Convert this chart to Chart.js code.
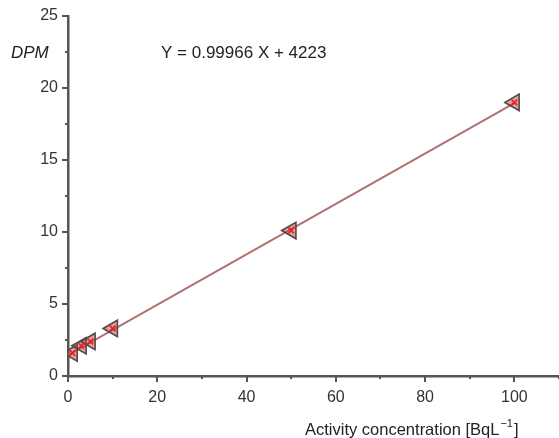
<!DOCTYPE html>
<html>
<head>
<meta charset="utf-8">
<script src="https://cdn.jsdelivr.net/npm/chart.js@4/dist/chart.umd.min.js"></script>
<style>
  body { margin: 0; background: #fff; }
  #wrap { width: 559px; height: 438px; position: relative; }
</style>
</head>
<body>
<div id="wrap"><canvas id="chart"></canvas></div>
<script>
// activity concentration (BqL-1) vs DPM
const concX = [1, 3, 5, 10, 50, 100];
const dpmY = [1.6, 2.1, 2.4, 3.3, 10.1, 19.0];

// regression line end points
const fitX = [0, 100];
const fitY = [1.45, 18.95];

const xTicks = [0, 20, 40, 60, 80, 100];
const yTicks = [0, 5, 10, 15, 20, 25];
const xMax = 110;

const equation = 'Y = 0.99966 X + 4223';
const yLabel = 'DPM';
const xLabel = 'Activity concentration [BqL';

const FONT = '"Liberation Sans", Arial, sans-serif';
const AXIS = '#555';

// draws the tick marks (major + minor) and the free text
const decorPlugin = {
    id: 'decor',
    afterDraw(chart) {
        const { ctx, scales: { x, y } } = chart;
        ctx.save();
        ctx.strokeStyle = AXIS;
        ctx.lineWidth = 2;

        const xs = [];
        xTicks.forEach((v, i) => {
            xs.push([v, 6]);
            if (i < xTicks.length - 1) xs.push([(v + xTicks[i + 1]) / 2, 3]);
        });
        xs.push([xMax, 3]);
        xs.forEach(([v, len]) => {
            const px = Math.round(x.getPixelForValue(v));
            ctx.beginPath();
            ctx.moveTo(px, y.bottom);
            ctx.lineTo(px, y.bottom + len);
            ctx.stroke();
        });

        const ys = [];
        yTicks.forEach((v, i) => {
            ys.push([v, 6]);
            if (i < yTicks.length - 1) ys.push([(v + yTicks[i + 1]) / 2, 3]);
        });
        ys.forEach(([v, len]) => {
            const py = Math.round(y.getPixelForValue(v));
            ctx.beginPath();
            ctx.moveTo(x.left, py);
            ctx.lineTo(x.left - len, py);
            ctx.stroke();
        });

        ctx.fillStyle = '#222';
        ctx.textBaseline = 'middle';
        ctx.textAlign = 'left';
        ctx.font = 'italic 17px ' + FONT;
        ctx.fillText(yLabel, 11, 53);
        ctx.font = '17px ' + FONT;
        ctx.fillText(equation, 161, 53);

        ctx.textBaseline = 'alphabetic';
        ctx.font = '16.5px ' + FONT;
        const bx = 305, by = 435;
        ctx.fillText(xLabel, bx, by);
        const w = ctx.measureText(xLabel).width;
        ctx.font = '11px ' + FONT;
        ctx.fillText('\u22121', bx + w + 1, by - 8);
        const w2 = ctx.measureText('\u22121').width;
        ctx.font = '16.5px ' + FONT;
        ctx.fillText(']', bx + w + w2 + 2, by);
        ctx.restore();
    }
};

new Chart(document.getElementById('chart'), {
    type: 'scatter',
    data: {
        datasets: [
            {
                type: 'line',
                data: fitX.map((v, i) => ({ x: v, y: fitY[i] })),
                borderColor: 'rgba(170, 95, 95, 0.9)',
                borderWidth: 2,
                pointRadius: 0,
                order: 3
            },
            {
                data: concX.map((v, i) => ({ x: v, y: dpmY[i] })),
                pointStyle: 'triangle',
                rotation: -90,
                pointRadius: 9.5,
                borderColor: '#4a4a4a',
                borderWidth: 1.6,
                backgroundColor: 'rgba(215, 60, 60, 0.5)',
                order: 2
            },
            {
                data: concX.map((v, i) => ({ x: v, y: dpmY[i] })),
                pointStyle: 'crossRot',
                pointRadius: 4,
                borderColor: 'rgba(220, 30, 30, 0.9)',
                borderWidth: 1.8,
                order: 1
            }
        ]
    },
    options: {
        responsive: true,
        maintainAspectRatio: false,
        animation: false,
        layout: { autoPadding: false, padding: { top: 16, right: 0, left: 0, bottom: 0 } },
        plugins: {
            legend: { display: false },
            tooltip: { enabled: false }
        },
        scales: {
            x: {
                type: 'linear',
                min: 0,
                max: xMax,
                afterBuildTicks: s => { s.ticks = xTicks.concat([xMax]).map(v => ({ value: v })); },
                afterFit: s => { s.height = 62; s.paddingRight = 0; },
                grid: { display: false, drawTicks: false },
                border: { display: true, color: AXIS, width: 2.5 },
                ticks: {
                    color: '#333',
                    font: { family: FONT, size: 16 },
                    padding: 12,
                    callback: v => (xTicks.includes(v) ? v : '')
                }
            },
            y: {
                type: 'linear',
                min: 0,
                max: 25,
                afterBuildTicks: s => { s.ticks = yTicks.map(v => ({ value: v })); },
                afterFit: s => { s.width = 68; s.paddingTop = 0; },
                grid: { display: false, drawTicks: false },
                border: { display: true, color: AXIS, width: 2.5 },
                ticks: { color: '#333', font: { family: FONT, size: 16 }, padding: 10 }
            }
        }
    },
    plugins: [decorPlugin]
});
</script>
</body>
</html>
